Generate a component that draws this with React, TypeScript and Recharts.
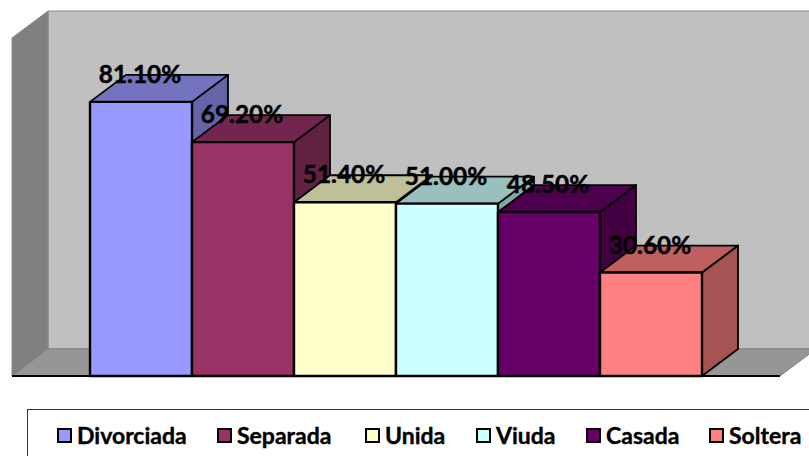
import React from 'react';
import { BarChart, Bar, XAxis, YAxis, Legend, LabelList, usePlotArea } from 'recharts';

const categories = ['Divorciada', 'Separada', 'Unida', 'Viuda', 'Casada', 'Soltera'];
const values = [81.1, 69.2, 51.4, 51.0, 48.5, 30.6];
const colors = ['#9999FF', '#993366', '#FFFFCC', '#CCFFFF', '#660066', '#FF8080'];
const topColors = ['#7373BF', '#73264D', '#BFBF99', '#99BFBF', '#4D004D', '#BF6060'];
const sideColors = ['#6464A6', '#632142', '#A6A685', '#85A6A6', '#420042', '#A65353'];
const data = categories.map((name, i) => ({ name, value: values[i], index: i }));
const legendX = [29, 189, 337, 448, 558, 681];

const DX = 36;
const DY = 27;
const FONT = 'Lato, Carlito, Calibri, sans-serif';

function Walls() {
  const p = usePlotArea();
  if (!p) return null;
  const l = p.x, r = p.x + p.width, t = p.y, b = p.y + p.height;
  return (
    <g>
      <polygon points={`${l + DX},${t - DY} ${r + DX},${t - DY} ${r + DX},${b - DY} ${l + DX},${b - DY}`} fill="#C0C0C0" stroke="#8A8A8A" strokeWidth={1} />
      <polygon points={`${l},${t} ${l + DX},${t - DY} ${l + DX},${b - DY} ${l},${b}`} fill="#808080" stroke="#8A8A8A" strokeWidth={1} />
      <polygon points={`${l},${b} ${l + DX},${b - DY} ${r + DX},${b - DY} ${r},${b}`} fill="#969696" stroke="#808080" strokeWidth={1} />
      <line x1={l} y1={b} x2={r} y2={b} stroke="#000" strokeWidth={2} />
    </g>
  );
}

function Box3D(props: any) {
  const { x, y, width, height, index } = props;
  const x2 = x + width;
  const y2 = y + height;
  return (
    <g stroke="#000" strokeLinejoin="round">
      <polygon points={`${x2},${y} ${x2 + DX},${y - DY} ${x2 + DX},${y2 - DY} ${x2},${y2}`} fill={sideColors[index]} strokeWidth={1.8} />
      <polygon points={`${x},${y} ${x + DX},${y - DY} ${x2 + DX},${y - DY} ${x2},${y}`} fill={topColors[index]} strokeWidth={1.8} />
      <rect x={x} y={y} width={width} height={height} fill={colors[index]} strokeWidth={2.4} />
    </g>
  );
}

function ValueLabel(props: any) {
  const { x, y, width, value } = props;
  return (
    <text x={x + width / 2 - 1} y={y - 19} textAnchor="middle" fontFamily={FONT} fontWeight={700} fontSize={24.4} fill="#000" stroke="#000" strokeWidth={0.5}>
      {Number(value).toFixed(2)}%
    </text>
  );
}

function LegendBox() {
  return (
    <div style={{ width: 800, height: 60, boxSizing: 'border-box', border: '1px solid #333', borderRight: 'none', background: '#fff', position: 'relative' }}>
      {categories.map((c, i) => (
        <div key={c} style={{ position: 'absolute', left: legendX[i], top: 12, display: 'flex', alignItems: 'center', fontFamily: FONT, fontWeight: 700, fontSize: 23, lineHeight: '26px', color: '#000', whiteSpace: 'nowrap', WebkitTextStroke: '0.4px #000' }}>
          <span style={{ display: 'inline-block', width: 11, height: 11, background: colors[i], border: '2.5px solid #000', marginRight: 5 }} />
          {c}
        </div>
      ))}
    </div>
  );
}

export default function App() {
  return (
    <div style={{ position: 'absolute', left: 0, top: 0, width: 809, height: 456, overflow: 'hidden', background: '#fff' }}>
      <BarChart width={809} height={456} data={data} barCategoryGap={0} margin={{ top: 38, right: 29, bottom: 20, left: 12 }}>
        <XAxis dataKey="name" hide padding={{ left: 78, right: 78 }} />
        <YAxis hide domain={[0, 100]} />
        <Walls />
        <Bar dataKey="value" isAnimationActive={false} shape={(p: any) => <Box3D {...p} />}>
          <LabelList dataKey="value" content={(p: any) => <ValueLabel {...p} />} />
        </Bar>
        <Legend content={() => <LegendBox />} wrapperStyle={{ position: 'absolute', left: 27, top: 409, width: 800, bottom: 'auto' }} />
      </BarChart>
    </div>
  );
}
